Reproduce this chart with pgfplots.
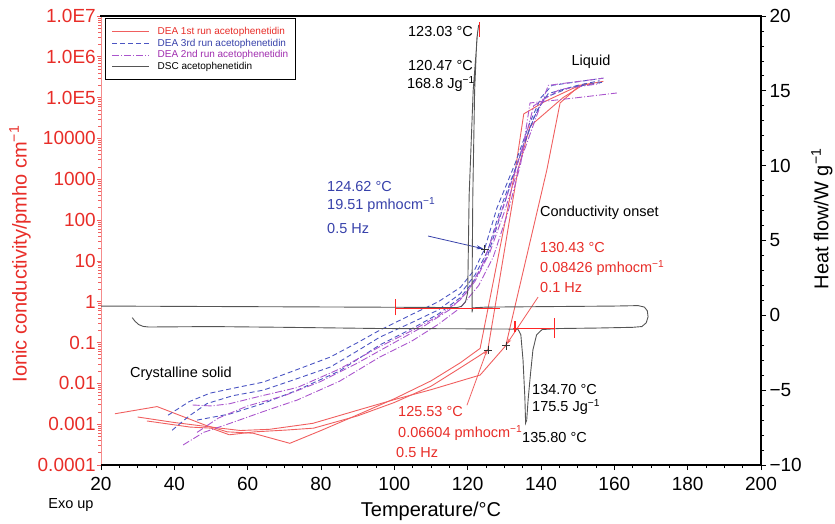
\documentclass[border=0pt]{standalone}
\usepackage{pgfplots}
\pgfplotsset{compat=1.18}
\usepackage{fontspec}
\setmainfont{Liberation Sans}
\usetikzlibrary{arrows.meta}
\definecolor{dred}{RGB}{240,95,95}
\definecolor{tred}{RGB}{232,45,40}
\definecolor{dblue}{RGB}{75,85,195}
\definecolor{tblue}{RGB}{55,65,170}
\definecolor{dpurp}{RGB}{170,85,205}
\definecolor{tpurp}{RGB}{160,45,175}
\definecolor{dscgray}{RGB}{85,85,85}
\definecolor{spinered}{RGB}{245,140,140}
\newcommand{\tfont}{\fontsize{19}{22}\selectfont}
\newcommand{\afont}{\fontsize{14.5}{17}\selectfont}
\newcommand{\lfont}{\fontsize{10}{12}\selectfont}
\newcommand{\mone}{\textsuperscript{−1}}
\pgfplotsset{
  redrun/.style={color=dred, line width=0.9pt},
  bluerun/.style={color=dblue, line width=0.9pt, dash pattern=on 5pt off 3pt},
  purprun/.style={color=dpurp, line width=0.9pt, dash pattern=on 7pt off 2pt on 1pt off 2pt},
  dscrun/.style={color=dscgray, line width=0.9pt},
  dscmark/.style={color=red!85!white, line width=1.1pt, forget plot},
}
\begin{document}
\begin{tikzpicture}
\path[use as bounding box] (-101pt,-58pt) rectangle (734pt,465pt);
% ---------- DEA (left, log) axis ----------
\begin{axis}[
  scale only axis, width=660pt, height=449pt, at={(0pt,0pt)}, anchor=south west,
  xmin=20, xmax=200, ymode=log, ymin=1e-4, ymax=1e7,
  axis y line*=left, hide x axis,
  y axis line style={color=spinered, line width=0.9pt},
  ytick={1e-4,1e-3,1e-2,1e-1,1,10,100,1000,1e4,1e5,1e6,1e7},
  yticklabels={0.0001,0.001,0.01,0.1,1,10,100,1000,10000,1.0E5,1.0E6,1.0E7},
  minor ytick={2e-4,3e-4,4e-4,5e-4,6e-4,7e-4,8e-4,9e-4,
    2e-3,3e-3,4e-3,5e-3,6e-3,7e-3,8e-3,9e-3,
    0.02,0.03,0.04,0.05,0.06,0.07,0.08,0.09,
    0.2,0.3,0.4,0.5,0.6,0.7,0.8,0.9,
    2,3,4,5,6,7,8,9,
    20,30,40,50,60,70,80,90,
    200,300,400,500,600,700,800,900,
    2000,3000,4000,5000,6000,7000,8000,9000,
    2e4,3e4,4e4,5e4,6e4,7e4,8e4,9e4,
    2e5,3e5,4e5,5e5,6e5,7e5,8e5,9e5,
    2e6,3e6,4e6,5e6,6e6,7e6,8e6,9e6},
  tick align=outside, major tick length=4pt, minor tick length=2.5pt,
  tick style={color=dred, line width=0.7pt},
  yticklabel style={font=\tfont, color=tred, inner sep=1pt},
  ylabel={Ionic conductivity/pmho cm\mone},
  ylabel style={at={(axis description cs:-0.1227,0.47)}, anchor=center, font=\fontsize{20}{24}\selectfont, color=tred},
]
% DEA 1st run (red)
\addplot[redrun] coordinates {(23.8,1.8e-3)(35.3,2.7e-3)(48.4,9.5e-4)(54.4,6.5e-4)(61.5,6e-4)(71.5,3.4e-4)(80,7e-4)(90,1.7e-3)(100,4.2e-3)(110,1.15e-2)(118,3.2e-2)(123.4,7.2e-2)(133,1.7e3)(135.3,4e4)(141,8e4)(150.5,2e5)(154.5,2.2e5)};
\addplot[redrun] coordinates {(32.5,1.2e-3)(44.3,8.5e-4)(50,8e-4)(55,5.5e-4)(62,6.5e-4)(70.7,7.2e-4)(78,8e-4)(90,1.6e-3)(100,3.4e-3)(110,8.5e-3)(118,2.4e-2)(123.4,4.9e-2)(125.5,6.6e-2)(133.7,1.7e3)(137,2e4)(146,1e5)(152,2.2e5)};
\addplot[redrun] coordinates {(30,1.5e-3)(40,1.1e-3)(50,8.5e-4)(58,7e-4)(66,7.5e-4)(77.8,1.05e-3)(90,2.2e-3)(100,4e-3)(110,7e-3)(123.4,1.6e-2)(130.4,8.4e-2)(141.6,1.7e3)(145.2,7.4e4)(150.6,2e5)(157,2.5e5)};
% DEA 3rd run (blue)
\addplot[bluerun] coordinates {(38.3,1.66e-3)(44,3.55e-3)(49.7,5.75e-3)(57,7.9e-3)(64.2,1.07e-2)(73,2.1e-2)(82.5,4.4e-2)(90,0.1)(96,0.2)(105,0.5)(112,1)(118,2.24)(122,6.3)(124.6,19.5)(128,200)(133,2510)(137,2.5e4)(140,1e5)(143,2e5)(157,3e5)};
\addplot[bluerun] coordinates {(39.4,7.1e-4)(44,1.58e-3)(48.9,3.2e-3)(56,5e-3)(64.2,6.8e-3)(73,1.26e-2)(82.5,2.5e-2)(90,6.3e-2)(96,0.135)(105,0.316)(112,0.63)(118,1.58)(122,4.5)(125.5,17.8)(129,200)(134,3160)(138,3.16e4)(141,1e5)(148,1.78e5)(157,2.4e5)};
\addplot[bluerun] coordinates {(46.2,1.26e-3)(55.2,1.78e-3)(64,3.16e-3)(73.5,6.8e-3)(85,2e-2)(96,8.7e-2)(105,0.224)(112,0.5)(118,1.26)(122,3.55)(125.5,14.1)(130,251)(135,6310)(139,5e4)(142,1.26e5)(150,2e5)(156,2.6e5)};
% DEA 2nd run (purple)
\addplot[purprun] coordinates {(45,2.95e-3)(50,2.8e-3)(55,3.16e-3)(64,5e-3)(73.5,7.9e-3)(85,2.24e-2)(96,7.9e-2)(105,0.2)(112,0.45)(118,1.12)(122,3.16)(126,15.8)(130,158)(135,3980)(139,4e4)(142,2e5)(157,3e5)};
\addplot[purprun] coordinates {(42.4,3.1e-4)(48,6.3e-4)(55.2,1.05e-3)(64,2e-3)(73.5,3.9e-3)(85,1.12e-2)(96,4.4e-2)(105,0.112)(112,0.28)(118,0.71)(123,2.5)(127,12.6)(131,158)(134.5,2510)(137,7.4e4)(150,1e5)(160.7,1.3e5)};
\addplot[purprun] coordinates {(46.2,6.3e-4)(52,1.41e-3)(60,2.8e-3)(70,5e-3)(80,1.12e-2)(90,3.16e-2)(100,0.1)(108,0.25)(115,0.63)(120,1.78)(124,7.9)(128,79)(133,1580)(136,1.26e4)(138,6.3e4)(145,1.58e5)(156,2.2e5)};
% onset markers
\addplot[only marks, mark=+, mark size=4pt, mark options={line width=0.8pt}, color=black!80] coordinates {(125.53,0.06604)(130.43,0.08426)(124.62,19.51)};
% annotation arrows
\draw[-{Stealth[length=7pt,width=4pt]}, tblue, line width=0.8pt] (axis cs:109.2,40.7) -- (axis cs:124.3,19.8);
\draw[-{Stealth[length=6pt,width=3.5pt]}, dred, line width=0.8pt] (axis cs:139.2,1.3) -- (axis cs:130.6,0.09);
\draw[-{Stealth[length=6pt,width=3.5pt]}, dred, line width=0.8pt] (axis cs:119.8,0.0029) -- (axis cs:125.4,0.07);
\end{axis}
% ---------- DSC (right, linear) axis ----------
\begin{axis}[
  scale only axis, width=660pt, height=449pt, at={(0pt,0pt)}, anchor=south west,
  xmin=20, xmax=200, ymin=-10, ymax=20,
  axis y line*=right, axis x line*=bottom,
  x axis line style={line width=1.6pt}, y axis line style={line width=1.4pt},
  xtick={20,40,...,200}, xticklabels={20,40,60,80,100,120,140,160,180,200},
  minor x tick num=3,
  ytick={-10,-5,0,5,10,15,20}, yticklabels={−10,−5,0,5,10,15,20},
  minor y tick num=4,
  tick align=outside, major tick length=5pt, minor tick length=3pt,
  tick style={color=black, line width=0.8pt},
  ticklabel style={font=\tfont},
  xticklabel style={yshift=-4pt},
  xlabel={Temperature/°C},
  xlabel style={at={(axis description cs:0.5,-0.1024)}, anchor=center, font=\fontsize{20}{24}\selectfont},
  ylabel={Heat flow/W g\mone},
  ylabel style={at={(axis description cs:1.0924,0.548)}, anchor=center, font=\fontsize{20}{24}\selectfont},
  legend style={at={(axis description cs:0.006,0.996)}, anchor=north west, draw=black, line width=1.2pt,
    fill=white, font=\lfont, inner xsep=6pt, inner ysep=7.5pt, row sep=0.6pt,
    nodes={inner sep=1.2pt},
    /tikz/every odd column/.append style={column sep=7pt}},
  legend cell align=left,
  legend image code/.code={\draw[line width=0.9pt,#1] (0pt,0pt) -- (37pt,0pt);},
]
\addlegendimage{redrun}
\addlegendentry{\textcolor{tred}{DEA 1st run acetophenetidin}}
\addlegendimage{bluerun}
\addlegendentry{\textcolor{tblue}{DEA 3rd run acetophenetidin}}
\addlegendimage{purprun}
\addlegendentry{\textcolor{tpurp}{DEA 2nd run acetophenetidin}}
\addplot[dscrun] coordinates {(28.5,-0.15)(29.3,-0.4)(30.3,-0.62)(31.5,-0.74)(33,-0.78)(50,-0.75)(70,-0.8)(96,-0.88)(120,-0.9)(133.7,-0.92)(134.5,-1.3)(135.1,-3.0)(135.6,-5.5)(135.8,-7.2)(136.1,-7.0)(136.5,-5.6)(137.1,-4.0)(137.8,-2.3)(138.8,-1.3)(140.3,-0.95)(145,-0.88)(155,-0.85)(165,-0.8)(167.5,-0.75)(168.7,-0.5)(169.2,-0.1)(169,0.3)(168.2,0.55)(166.5,0.65)(160,0.62)(140,0.58)(125,0.55)(121.4,0.5)(121.2,0.2)(121.2,2)(121.4,8)(121.9,15)(122.5,18.5)(123.0,19.4)(122.7,18.9)(121.5,15)(120.4,8)(120.1,3)(120.0,1.5)(119.4,0.9)(118.3,0.6)(117.1,0.52)(100,0.54)(60,0.58)(20,0.62)};
\addlegendentry{DSC acetophenetidin}
% DSC analysis marks (red)
\addplot[dscmark] coordinates {(100.2,0.45)(128.8,0.45)};
\addplot[dscmark] coordinates {(100.2,0.0)(100.2,1.1)};
\addplot[dscmark] coordinates {(132.4,-0.88)(143.8,-0.88)};
\addplot[dscmark] coordinates {(143.8,-0.2)(143.8,-1.5)};
\addplot[dscmark] coordinates {(132.9,-0.4)(132.9,-1.1)};
\addplot[dscmark] coordinates {(123.3,18.6)(123.3,19.6)};
\end{axis}
\draw[line width=1.6pt] (-0.8pt,449pt) -- (660.7pt,449pt);
% ---------- annotations ----------
\begin{scope}[every node/.style={inner sep=0pt, font=\afont}]
\node[anchor=east, text=black] at (372pt,433pt) {123.03 °C};
\node[anchor=east, text=black] at (372pt,399pt) {120.47 °C};
\node[anchor=east, text=black] at (374pt,381pt) {168.8 Jg\mone};
\node[anchor=center, text=black] at (490pt,403pt) {Liquid};
\node[anchor=west, text=tblue] at (226pt,278pt) {124.62 °C};
\node[anchor=west, text=tblue] at (226pt,260pt) {19.51 pmhocm\mone};
\node[anchor=west, text=tblue] at (226pt,236pt) {0.5 Hz};
\node[anchor=west, text=black] at (439pt,252pt) {Conductivity onset};
\node[anchor=west, text=tred] at (439pt,217pt) {130.43 °C};
\node[anchor=west, text=tred] at (439pt,197pt) {0.08426 pmhocm\mone};
\node[anchor=west, text=tred] at (439pt,177pt) {0.1 Hz};
\node[anchor=west, text=black] at (29pt,91pt) {Crystalline solid};
\node[anchor=west, text=tred] at (297pt,53pt) {125.53 °C};
\node[anchor=west, text=tred] at (297pt,32pt) {0.06604 pmhocm\mone};
\node[anchor=west, text=tred] at (295pt,12pt) {0.5 Hz};
\node[anchor=west, text=black] at (431pt,75pt) {134.70 °C};
\node[anchor=west, text=black] at (431pt,58pt) {175.5 Jg\mone};
\node[anchor=west, text=black] at (421pt,27pt) {135.80 °C};
\node[anchor=center, text=black] at (-30pt,-40pt) {Exo up};
\end{scope}
\end{tikzpicture}
\end{document}
